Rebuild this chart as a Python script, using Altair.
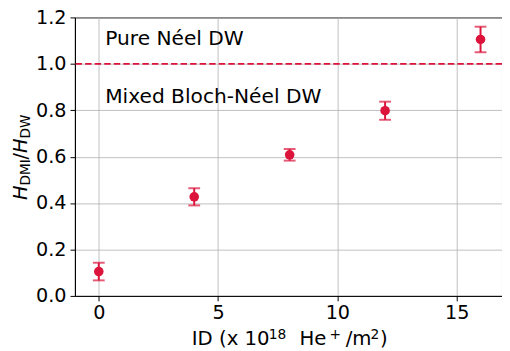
import altair as alt
import pandas as pd

# Data
ids = [0, 4, 8, 12, 16]
ratio = [0.105, 0.427, 0.608, 0.798, 1.105]
err = [0.038, 0.037, 0.025, 0.039, 0.055]
threshold = [1.0]
labels = ["Pure Néel DW", "Mixed Bloch-Néel DW"]
label_x = [0.27, 0.27]
label_y = [1.08, 0.83]
x_ticks = [0, 5, 10, 15]
y_ticks = [0.0, 0.2, 0.4, 0.6, 0.8, 1.0, 1.2]

RED = "#DC143C"
FONT = "DejaVu Sans"
FS = 19.5
SUB = 13.8

df = pd.DataFrame({"id": ids, "val": ratio, "err": err})
df["lo"] = df["val"] - df["err"]
df["hi"] = df["val"] + df["err"]

xs = alt.Scale(domain=[-1.0, 16.9], nice=False, zero=False)
ys = alt.Scale(domain=[0, 1.2], nice=False)

x_enc = alt.X("id:Q", scale=xs, axis=alt.Axis(values=x_ticks, title="", format="d"))
y_enc = alt.Y("val:Q", scale=ys, axis=alt.Axis(values=y_ticks, title="", format=".1f"))

base = alt.Chart(df)

points = base.mark_point(filled=True, size=95, color=RED, opacity=1).encode(x=x_enc, y=y_enc)
bars = base.mark_rule(color=RED, strokeWidth=2).encode(x="id:Q", y=alt.Y("lo:Q"), y2="hi:Q")
cap_lo = base.mark_tick(color=RED, thickness=2, size=12, orient="horizontal").encode(
    x="id:Q", y=alt.Y("lo:Q"))
cap_hi = base.mark_tick(color=RED, thickness=2, size=12, orient="horizontal").encode(
    x="id:Q", y=alt.Y("hi:Q"))

thr = alt.Chart(pd.DataFrame({"val": threshold})).mark_rule(
    color=RED, strokeWidth=1.8, strokeDash=[6.5, 3.2]).encode(y="val:Q")

ann = alt.Chart(pd.DataFrame({"id": label_x, "val": label_y, "t": labels})).mark_text(
    font=FONT, fontSize=20.5, align="left", baseline="alphabetic", color="black"
).encode(x="id:Q", y="val:Q", text="t:N")


def seg(t, size, style, xx, yy, angle=0):
    return alt.Chart(pd.DataFrame({"t": [t]})).mark_text(
        font=FONT, fontSize=size, fontStyle=style, angle=angle, align="left",
        baseline="alphabetic", color="black"
    ).encode(text="t:N", x=alt.value(xx), y=alt.value(yy))


# y-axis title: H_DMI / H_DW (rotated pieces)
y_title = [
    seg("H", FS, "italic", -48.5, 185.5, 270),
    seg("DMI", SUB, "normal", -45.5, 170.8, 270),
    seg("/", FS, "normal", -48.5, 144.4, 270),
    seg("H", FS, "italic", -48.5, 137.8, 270),
    seg("DW", SUB, "normal", -45.5, 123.1, 270),
]

# x-axis title: ID (x 10^18 He^+/m^2)
XB = 333.0   # main baseline below plot top
XS = 327.0   # superscript baseline
DX = 3.0
x_title = [
    seg("ID (x 10", 20, "normal", 115.8 + DX, XB),
    seg("18", 14, "normal", 194.0 + DX, XS),
    seg("He", 20, "normal", 225.2 + DX, XB),
    seg("+", 14, "normal", 255.8 + DX, XS),
    seg("/m", 20, "normal", 272.2 + DX, XB),
    seg("2", 14, "normal", 297.4 + DX, XS),
    seg(")", 20, "normal", 306.9 + DX, XB),
]

chart = alt.layer(thr, bars, cap_lo, cap_hi, points, ann, *y_title, *x_title).properties(
    width=434, height=283,
    autosize=alt.AutoSizeParams(type="none"),
    padding={"left": 68, "top": 6.8, "right": 0, "bottom": 54},
).configure_view(stroke="black", strokeWidth=1).configure_axis(
    labelFont=FONT, labelFontSize=FS, labelColor="black",
    domainColor="black", domainWidth=1, tickColor="black", tickSize=5, tickWidth=1,
    gridColor="#b0b0b0", gridWidth=0.8, labelPadding=4,
).configure_axisX(labelPadding=3)

chart.save("out.html", embed_options={"renderer": "svg", "actions": False})
